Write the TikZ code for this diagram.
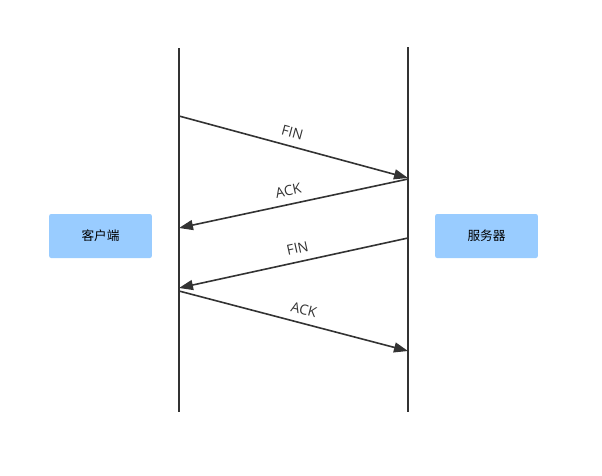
\documentclass[tikz,border=0pt]{standalone}
\usepackage{fontspec}
\setmainfont{Open Sans}
\newfontfamily\cjk{Noto Sans CJK SC}
\usetikzlibrary{arrows.meta, positioning, calc}
\definecolor{boxblue}{RGB}{153,204,255}
\definecolor{linegray}{RGB}{51,51,51}

\begin{document}
\begin{tikzpicture}[
        x=0.75pt, y=-0.75pt,
        box/.style={fill=boxblue, rounded corners=1.5pt, minimum width=77pt, minimum height=33pt, font=\cjk\fontsize{9.5}{11}\selectfont},
        msg/.style={draw=linegray, line width=1.2pt, -{Triangle[length=10.5pt, width=7.5pt]}},
        lbl/.style={font=\fontsize{10.5}{12}\selectfont, text=linegray, sloped, above=2.5pt},
        life/.style={draw=linegray, line width=1.2pt}
    ]
        \useasboundingbox (0,0) rectangle (602,475);

        \node[box] (client) at (100.5,236) {客户端};
        \node[box] (server) at (486.5,236) {服务器};

        \coordinate (ctop) at (179,48);
        \coordinate (cbot) at (179,412);
        \coordinate (stop) at (408,47);
        \coordinate (sbot) at (408,412);
        \draw[life] (ctop) -- (cbot);
        \draw[life] (stop) -- (sbot);

        \coordinate (c1) at (179,116);
        \coordinate (s1) at (408,178);
        \coordinate (s2) at (408,179);
        \coordinate (c2) at (179,228);
        \coordinate (s3) at (408,238);
        \coordinate (c3) at (179,288);
        \coordinate (c4) at (179,291);
        \coordinate (s4) at (408,351);

        \draw[msg] (c1) -- node[lbl, pos=0.48] {FIN} (s1);
        \draw[msg] (s2) -- node[lbl, pos=0.51] {ACK} (c2);
        \draw[msg] (s3) -- node[lbl, pos=0.47] {FIN} (c3);
        \draw[msg] (c4) -- node[lbl, pos=0.53] {ACK} (s4);
    \end{tikzpicture}
\end{document}
